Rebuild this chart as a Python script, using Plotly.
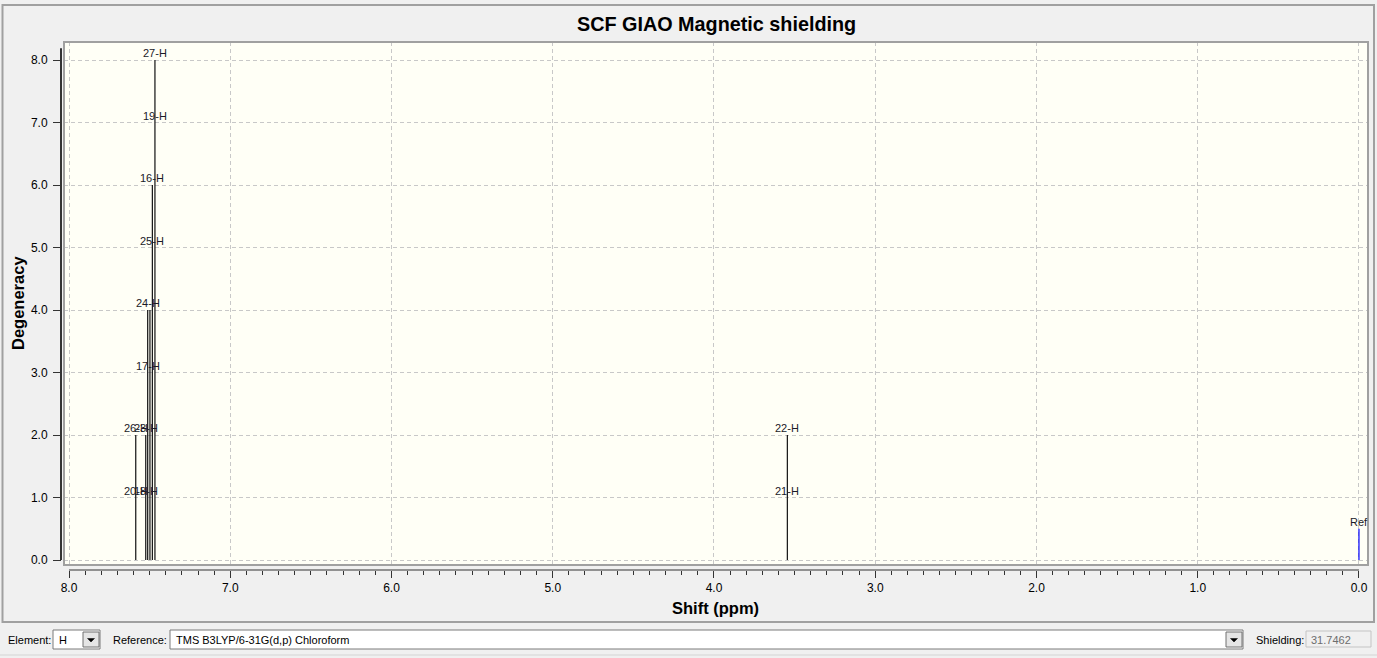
import plotly.graph_objects as go

# peak positions (ppm) and stacked degeneracy heights
h_shift = [7.586, 7.524, 7.512, 7.498, 7.483, 7.467, 3.545]
h_degeneracy = [2, 2, 4, 4, 6, 8, 2]

ref_shift = [0.0]
ref_height = [0.5]

# atom labels, the peak they sit on and the level they are drawn at
label_text = ["20-H", "26-H", "18-H", "23-H", "17-H", "24-H",
              "25-H", "16-H", "19-H", "27-H", "21-H", "22-H"]
label_shift = [7.586, 7.586, 7.524, 7.524, 7.512, 7.512,
               7.483, 7.483, 7.467, 7.467, 3.545, 3.545]
label_level = [1, 2, 1, 2, 3, 4, 5, 6, 7, 8, 1, 2]

x_ticks = [8.0, 7.0, 6.0, 5.0, 4.0, 3.0, 2.0, 1.0, 0.0]
y_ticks = [0.0, 1.0, 2.0, 3.0, 4.0, 5.0, 6.0, 7.0, 8.0]

W, H = 1377, 658
ML, MR, MT, MB = 61, 9, 42, 88
PW, PH = W - ML - MR, H - MT - MB


def px(x):
    return (x - ML) / PW


def py(y):
    return (H - MB - y) / PH


FONT = "Liberation Sans, Arial, sans-serif"


def stems(xs, hs):
    sx, sy = [], []
    for x, h in zip(xs, hs):
        sx += [x, x, None]
        sy += [0, h, None]
    return sx, sy


fig = go.Figure()

sx, sy = stems(h_shift, h_degeneracy)
fig.add_trace(go.Scatter(x=sx, y=sy, mode="lines",
                         line=dict(color="#111111", width=1.2),
                         hoverinfo="skip", showlegend=False))

rx, ry = stems(ref_shift, ref_height)
fig.add_trace(go.Scatter(x=rx, y=ry, mode="lines",
                         line=dict(color="#0000ff", width=1.2),
                         hoverinfo="skip", showlegend=False))

annotations = []
for t, x, lv in zip(label_text, label_shift, label_level):
    annotations.append(dict(x=x, y=lv, xref="x", yref="y", text=t,
                            showarrow=False, yanchor="bottom", yshift=-1,
                            font=dict(family=FONT, size=11, color="#1a1a28")))
annotations.append(dict(x=ref_shift[0], y=ref_height[0], xref="x", yref="y",
                        text="Ref", showarrow=False, yanchor="bottom", yshift=-1,
                        font=dict(family=FONT, size=11, color="#1a1a28")))

# titles
annotations.append(dict(x=px(716), y=py(24), xref="paper", yref="paper",
                        text="<b>SCF GIAO Magnetic shielding</b>", showarrow=False,
                        xanchor="center", yanchor="middle",
                        font=dict(family=FONT, size=19.8, color="#000000")))
annotations.append(dict(x=px(715), y=py(608), xref="paper", yref="paper",
                        text="<b>Shift (ppm)</b>", showarrow=False,
                        xanchor="center", yanchor="middle",
                        font=dict(family=FONT, size=16.5, color="#000000")))
annotations.append(dict(x=px(18), y=py(303), xref="paper", yref="paper",
                        text="<b>Degeneracy</b>", showarrow=False, textangle=-90,
                        xanchor="center", yanchor="middle",
                        font=dict(family=FONT, size=16.5, color="#000000")))

# bottom toolbar texts
bar_font = dict(family=FONT, size=11, color="#000000")
for txt, x0 in [("Element:", 6), ("H", 57), ("Reference:", 111),
                ("TMS B3LYP/6-31G(d,p) Chloroform", 174), ("Shielding:", 1254)]:
    annotations.append(dict(x=px(x0), y=py(640), xref="paper", yref="paper",
                            text=txt, showarrow=False, xanchor="left",
                            yanchor="middle", font=bar_font))
annotations.append(dict(x=px(1309), y=py(640), xref="paper", yref="paper",
                        text="31.7462", showarrow=False, xanchor="left",
                        yanchor="middle",
                        font=dict(family=FONT, size=11, color="#6d6d6d")))

shapes = []
# outer frame
shapes.append(dict(type="rect", xref="paper", yref="paper",
                   x0=px(2.5), x1=px(1374), y0=py(622), y1=py(5),
                   line=dict(color="#a0a0a0", width=2), layer="below"))
# plot border
shapes.append(dict(type="rect", xref="x domain", yref="y domain",
                   x0=0, x1=1, y0=0, y1=1,
                   line=dict(color="#a0a0a0", width=2)))
# axis lines
shapes.append(dict(type="line", xref="x", yref="paper", x0=8.0, x1=0.0,
                   y0=0, y1=0, line=dict(color="#333333", width=1)))
shapes.append(dict(type="line", xref="paper", yref="y", x0=0, x1=0,
                   y0=0.0, y1=8.19, line=dict(color="#333333", width=2)))
# toolbar bottom line
shapes.append(dict(type="line", xref="paper", yref="paper", x0=px(0), x1=px(W),
                   y0=py(655), y1=py(655), line=dict(color="#d4d4d4", width=1)))
# toolbar boxes
for x0, x1, y0, y1, fill, col in [(53, 100, 630, 649, "#ffffff", "#7a7a7a"),
                                  (170, 1243, 630, 649, "#ffffff", "#7a7a7a"),
                                  (1306, 1371, 631, 647, "#f0f0f0", "#c4c4c4")]:
    shapes.append(dict(type="rect", xref="paper", yref="paper",
                       x0=px(x0), x1=px(x1), y0=py(y1), y1=py(y0),
                       fillcolor=fill, line=dict(color=col, width=1)))
# dropdown buttons
for bx in [83, 1226]:
    shapes.append(dict(type="rect", xref="paper", yref="paper",
                       x0=px(bx), x1=px(bx + 16), y0=py(647), y1=py(632),
                       fillcolor="#e5e5e5", line=dict(color="#707070", width=1)))
    cx = bx + 8
    shapes.append(dict(type="path", xref="paper", yref="paper",
                       path="M %f %f L %f %f L %f %f Z" % (
                           px(cx - 3.5), py(638.5), px(cx + 3.5), py(638.5),
                           px(cx), py(642)),
                       fillcolor="#000000", line=dict(color="#000000", width=0.5)))

fig.update_layout(
    width=W, height=H,
    margin=dict(l=ML, r=MR, t=MT, b=MB, pad=0),
    paper_bgcolor="#f0f0f0",
    plot_bgcolor="#fffff6",
    showlegend=False,
    annotations=annotations,
    shapes=shapes,
    xaxis=dict(
        domain=[px(64), 1],
        range=[8.031, -0.056],
        tickvals=x_ticks,
        ticktext=["%.1f" % v for v in x_ticks],
        anchor="free", position=0,
        showline=False, zeroline=False,
        ticks="outside", ticklen=7, tickwidth=1, tickcolor="#333333",
        minor=dict(dtick=0.1, ticks="outside", ticklen=4, tickcolor="#333333",
                   showgrid=False),
        showgrid=True, gridcolor="#c8c8c8", gridwidth=1, griddash="4px,3px",
        tickfont=dict(family=FONT, size=12, color="#000000"),
    ),
    yaxis=dict(
        domain=[py(565), 1],
        range=[-0.08, 8.288],
        tickvals=y_ticks,
        ticktext=["%.1f" % v for v in y_ticks],
        anchor="free", position=0,
        showline=False, zeroline=False,
        ticks="outside", ticklen=8, tickwidth=1, tickcolor="#333333",
        ticklabelstandoff=3,
        showgrid=True, gridcolor="#c8c8c8", gridwidth=1, griddash="4px,3px",
        tickfont=dict(family=FONT, size=12, color="#000000"),
    ),
)

fig.write_html("out.html", config={"displayModeBar": False},
               post_script="document.body.style.margin='0px';"
                           "document.body.style.overflow='hidden';")
